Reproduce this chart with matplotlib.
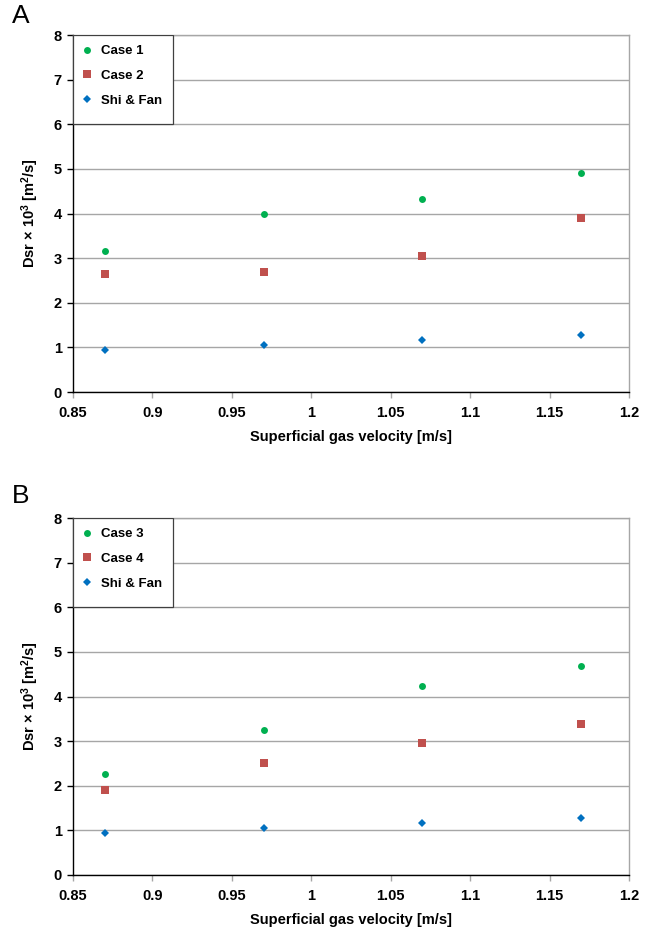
import matplotlib
matplotlib.use("Agg")
import matplotlib.pyplot as plt
from matplotlib.patches import Rectangle

plt.rcParams['font.family'] = ['Liberation Sans', 'DejaVu Sans']
plt.rcParams['mathtext.fontset'] = 'custom'
plt.rcParams['mathtext.rm'] = 'Liberation Sans:bold'
plt.rcParams['mathtext.bf'] = 'Liberation Sans:bold'
plt.rcParams['mathtext.it'] = 'Liberation Sans:bold'

# Superficial gas velocity [m/s]
velocity = [0.87, 0.97, 1.07, 1.17]

# Panel A
case1 = [3.16, 3.99, 4.32, 4.90]
case2 = [2.64, 2.69, 3.04, 3.89]
shi_fan_a = [0.94, 1.05, 1.16, 1.27]

# Panel B
case3 = [2.26, 3.26, 4.24, 4.69]
case4 = [1.90, 2.52, 2.95, 3.39]
shi_fan_b = [0.94, 1.05, 1.16, 1.27]

x_ticks = [0.85, 0.9, 0.95, 1.0, 1.05, 1.1, 1.15, 1.2]
x_tick_labels = ['0.85', '0.9', '0.95', '1', '1.05', '1.1', '1.15', '1.2']
y_ticks = [0, 1, 2, 3, 4, 5, 6, 7, 8]

GREEN = '#00b050'
RED = '#c0504d'
BLUE = '#0070c0'
GRID = '#a6a6a6'

W, H = 655, 936
fig = plt.figure(figsize=(W / 100, H / 100), dpi=100)


def panel(top_px, bottom_px, letter, letter_y, series):
    left_px, right_px = 73, 629
    ax = fig.add_axes([left_px / W, 1 - bottom_px / H,
                       (right_px - left_px) / W, (bottom_px - top_px) / H])
    (lab1, v1), (lab2, v2), (lab3, v3) = series
    ax.plot(velocity, v1, linestyle='none', marker='o', markersize=5,
            color=GREEN, markeredgewidth=0, label=lab1, zorder=3)
    ax.plot(velocity, v2, linestyle='none', marker='s', markersize=5.5,
            color=RED, markeredgewidth=0, label=lab2, zorder=3)
    ax.plot(velocity, v3, linestyle='none', marker='D', markersize=4.3,
            color=BLUE, markeredgewidth=0, label=lab3, zorder=3)

    ax.set_xlim(0.85, 1.2)
    ax.set_ylim(0, 8)
    ax.set_xticks(x_ticks)
    ax.set_xticklabels(x_tick_labels)
    ax.set_yticks(y_ticks)
    ax.yaxis.grid(True, color=GRID, linewidth=1.0)
    ax.set_axisbelow(True)
    for s in ('top', 'right'):
        ax.spines[s].set_color(GRID)
        ax.spines[s].set_linewidth(1.0)
    for s in ('left', 'bottom'):
        ax.spines[s].set_color('black')
        ax.spines[s].set_linewidth(1.0)
    ax.tick_params(axis='both', direction='out', length=4, width=1,
                   color='black', labelsize=10.5, pad=4)
    ax.tick_params(axis='x', color=GRID, pad=6)
    for t in ax.get_xticklabels() + ax.get_yticklabels():
        t.set_fontweight('bold')

    ax.set_xlabel('Superficial gas velocity [m/s]', fontsize=10.5,
                  fontweight='bold', labelpad=7)
    ax.set_ylabel(r'Dsr × 10$^{3}$ [m$^{2}$/s]', fontsize=10.5,
                  fontweight='bold', labelpad=9)

    # legend box: white panel in the upper-left corner of the plot area
    box = Rectangle((0, 0.75), 100 / (right_px - left_px), 0.25,
                    transform=ax.transAxes, facecolor='white',
                    edgecolor='#404040', linewidth=0.9, zorder=4)
    ax.add_patch(box)
    leg = ax.legend(loc='upper left', bbox_to_anchor=(0, 1), borderaxespad=0,
                    frameon=False, handlelength=0.6, handletextpad=0.8,
                    borderpad=0.75, labelspacing=0.95, markerscale=1.0,
                    prop={'weight': 'bold', 'size': 9.5})
    leg.set_zorder(5)

    fig.text(12 / W, 1 - letter_y / H, letter, fontsize=19,
             va='top', ha='left')
    return ax


panel(35, 392, 'A', 4,
      [('Case 1', case1), ('Case 2', case2), ('Shi & Fan', shi_fan_a)])
panel(518, 875, 'B', 484,
      [('Case 3', case3), ('Case 4', case4), ('Shi & Fan', shi_fan_b)])

fig.savefig('out.png', dpi=100, facecolor='white')
